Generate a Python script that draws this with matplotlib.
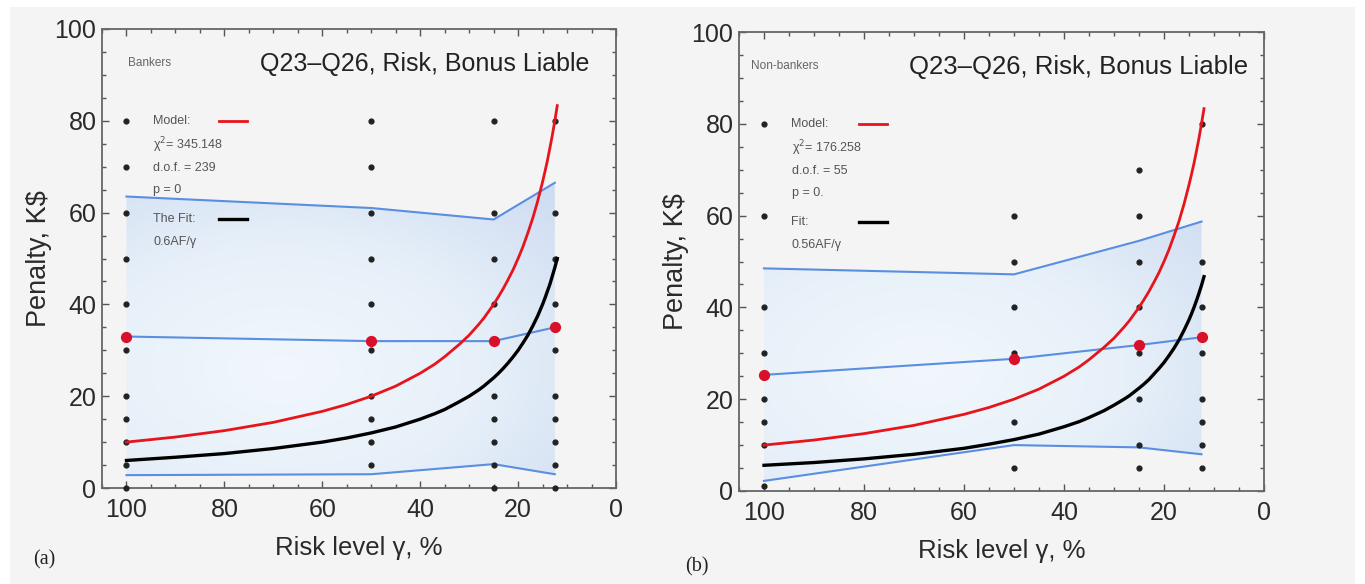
import numpy as np
import matplotlib.pyplot as plt
from matplotlib.patches import Rectangle
from matplotlib.colors import LinearSegmentedColormap
from matplotlib.ticker import MultipleLocator

plt.rcParams['font.family'] = ['Liberation Sans', 'DejaVu Sans']

# risk levels (x) of the four questions
risk = [100, 50, 25, 12.5]

# raw answers (black dots), per risk level
bank_pts = {
    100: [80, 70, 60, 50, 40, 30, 20, 15, 10, 5, 0],
    50: [80, 70, 60, 50, 40, 30, 20, 15, 10, 5],
    25: [80, 60, 50, 40, 20, 15, 10, 5, 0],
    12.5: [80, 60, 50, 40, 30, 20, 15, 10, 5, 0],
}
nonbank_pts = {
    100: [80, 60, 40, 30, 20, 15, 10, 1],
    50: [60, 50, 40, 30, 15, 5],
    25: [70, 60, 50, 40, 30, 20, 10, 5],
    12.5: [80, 50, 40, 30, 20, 15, 10, 5],
}

# mean and band (mean +/- sd)
bank_mean = [33, 32, 32, 35]
bank_hi = [63.5, 61, 58.5, 66.5]
bank_lo = [2.8, 3.0, 5.2, 3.0]
nonbank_mean = [25.3, 28.8, 31.8, 33.5]
nonbank_hi = [48.5, 47.2, 54.5, 58.7]
nonbank_lo = [2.2, 10.0, 9.5, 8.0]

# model and fit curves
curve_x = [100, 90, 80, 70, 60, 55, 50, 45, 40, 37, 35, 32, 30, 28, 27, 25, 24, 23, 22, 21,
           20, 19, 18, 17, 16, 15, 14.5, 14, 13.5, 13, 12.5, 12]
model_y = [10, 11.1, 12.5, 14.3, 16.7, 18.2, 20, 22.2, 25, 27, 28.6, 31.3, 33.3, 35.7, 37,
           40, 41.7, 43.5, 45.5, 47.6, 50, 52.6, 55.6, 58.8, 62.5, 66.7, 69, 71.4, 74.1,
           76.9, 80, 83.3]
bank_fit_y = [6, 6.7, 7.5, 8.6, 10, 10.9, 12, 13.3, 15, 16.2, 17.1, 18.8, 20, 21.4, 22.2,
              24, 25, 26.1, 27.3, 28.6, 30, 31.6, 33.3, 35.3, 37.5, 40, 41.4, 42.9, 44.4,
              46.2, 48, 50]
nonbank_fit_y = [5.6, 6.2, 7, 8, 9.3, 10.2, 11.2, 12.4, 14, 15.1, 16, 17.5, 18.7, 20, 20.7,
                 22.4, 23.3, 24.3, 25.5, 26.7, 28, 29.5, 31.1, 32.9, 35, 37.3, 38.6, 40,
                 41.5, 43.1, 44.8, 46.7]

title = "Q23\u2013Q26, Risk, Bonus Liable"
bank_legend = ["Model:", "\u03c7$^2$= 345.148", "d.o.f. = 239", "p = 0", "The Fit:", "0.6AF/\u03b3"]
nonbank_legend = ["Model:", "\u03c7$^2$= 176.258", "d.o.f. = 55", "p = 0.", "Fit:", "0.56AF/\u03b3"]
legend_y = [0.80, 0.747, 0.698, 0.649, 0.585, 0.535]

BG = '#f4f4f4'
BLUE = '#5a8ee0'
RED = '#e8141c'

fig = plt.figure(figsize=(13.65, 5.84), dpi=100)
fig.patch.set_facecolor('white')
fig.patches.append(Rectangle((10 / 1365, 0), 1345 / 1365, 577 / 584, transform=fig.transFigure,
                             facecolor=BG, edgecolor='none', zorder=-10))

ax1 = fig.add_axes([102 / 1365, 96 / 584, 514 / 1365, 459 / 584])
ax2 = fig.add_axes([739 / 1365, 93 / 584, 525 / 1365, 459 / 584])

band_cmap = LinearSegmentedColormap.from_list('band', ['#f1f7fc', '#e7f0f9', '#cedcf2'])


def gradient_band(ax, lo, hi):
    poly = ax.fill_between(risk, lo, hi, facecolor='none', edgecolor='none')
    gx, gy = np.meshgrid(np.linspace(105, 0, 300), np.linspace(0, 100, 300))
    d = np.sqrt(((gx - 68) / 60) ** 2 + ((gy - 26) / 40) ** 2)
    im = ax.imshow(d, extent=[105, 0, 0, 100], origin='lower', aspect='auto',
                   cmap=band_cmap, vmin=0, vmax=1.35, zorder=1)
    im.set_clip_path(poly.get_paths()[0], transform=ax.transData)


def panel(ax, pts, mean, lo, hi, fit_y, group, legend, group_x, title_x, title_fs):
    ax.set_facecolor(BG)
    gradient_band(ax, lo, hi)
    for x, ys in pts.items():
        ax.scatter([x] * len(ys), ys, s=12, color='#222222', zorder=3, clip_on=False)
    ax.plot(risk, hi, color=BLUE, lw=1.5, zorder=2)
    ax.plot(risk, lo, color=BLUE, lw=1.5, zorder=2)
    ax.plot(risk, mean, color=BLUE, lw=1.5, zorder=2)
    ax.scatter(risk, mean, s=50, color='#d8102a', zorder=4, clip_on=False)
    ax.plot(curve_x, model_y, color=RED, lw=2.0, zorder=5)
    ax.plot(curve_x, fit_y, color='black', lw=2.4, zorder=5)

    ax.set_xlim(105, 0)
    ax.set_ylim(0, 100)
    ax.xaxis.set_major_locator(MultipleLocator(20))
    ax.xaxis.set_minor_locator(MultipleLocator(5))
    ax.yaxis.set_major_locator(MultipleLocator(20))
    ax.yaxis.set_minor_locator(MultipleLocator(5))
    ax.tick_params(which='both', direction='in', top=True, right=True, color='#555555',
                   labelsize=18, labelcolor='#2a2a2a')
    ax.tick_params(axis='x', pad=7)
    ax.tick_params(axis='y', pad=4)
    ax.tick_params(which='major', length=5, width=1)
    ax.tick_params(which='minor', length=3, width=1)
    for s in ax.spines.values():
        s.set_color('#666666')
        s.set_linewidth(1.3)
    ax.set_xlabel("Risk level \u03b3, %", fontsize=18.5, color='#2a2a2a', labelpad=10)
    ax.set_ylabel("Penalty, K$", fontsize=19.5, color='#2a2a2a', labelpad=2)

    ax.text(title_x, 0.923, title, transform=ax.transAxes,
            ha='right', va='center', fontsize=title_fs, color='#222222')
    ax.text(group_x, 0.925, group, transform=ax.transAxes,
            ha='left', va='center', fontsize=8.5, color='#666666')
    for t, y in zip(legend, legend_y):
        ax.text(0.1, y, t, transform=ax.transAxes, ha='left', va='center',
                fontsize=9, color='#555555')
    ax.plot([0.228, 0.282], [legend_y[0], legend_y[0]], color=RED, lw=2,
            transform=ax.transAxes)
    ax.plot([0.228, 0.282], [legend_y[4], legend_y[4]], color='black', lw=2.4,
            transform=ax.transAxes)


panel(ax1, bank_pts, bank_mean, bank_lo, bank_hi, bank_fit_y, "Bankers", bank_legend,
      0.05, 0.949, 18)
panel(ax2, nonbank_pts, nonbank_mean, nonbank_lo, nonbank_hi, nonbank_fit_y, "Non-bankers",
      nonbank_legend, 0.023, 0.97, 18.5)

fig.text(33 / 1365, 1 - 560 / 584, "(a)", fontsize=14.5, family='Liberation Serif',
         ha='left', va='center', color='#222222')
fig.text(685 / 1365, 1 - 567 / 584, "(b)", fontsize=14.5, family='Liberation Serif',
         ha='left', va='center', color='#222222')

fig.savefig('out.png', dpi=100, facecolor='white')
